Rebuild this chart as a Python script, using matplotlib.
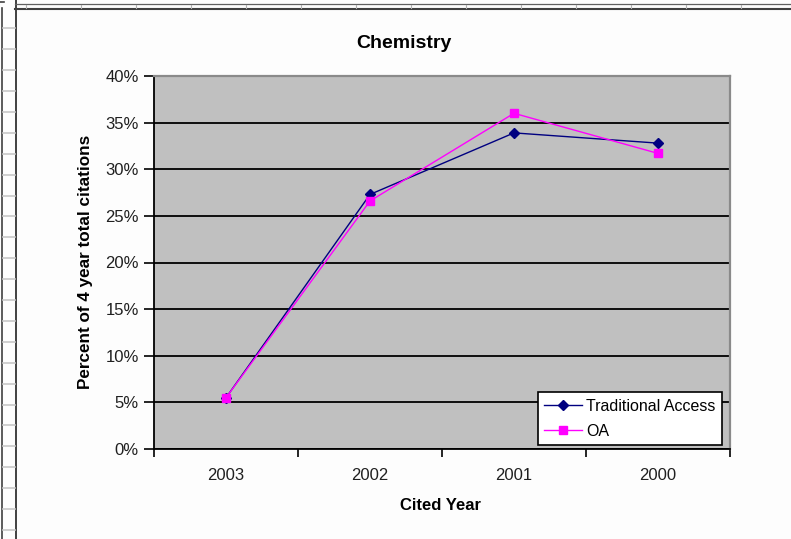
import matplotlib
matplotlib.use("Agg")
import matplotlib.pyplot as plt
from matplotlib.lines import Line2D

plt.rcParams['font.family'] = ['Liberation Sans', 'DejaVu Sans']

# Data
categories = ["2003", "2002", "2001", "2000"]
traditional = [0.055, 0.273, 0.339, 0.328]
oa = [0.055, 0.266, 0.360, 0.317]
yticks = [0.0, 0.05, 0.10, 0.15, 0.20, 0.25, 0.30, 0.35, 0.40]
ytick_labels = ["0%", "5%", "10%", "15%", "20%", "25%", "30%", "35%", "40%"]

W, H = 791, 539
fig = plt.figure(figsize=(W / 100, H / 100), dpi=100)
fig.patch.set_facecolor("#fdfdfd")

# spreadsheet decoration (fig pixel coords)
def fx(x):
    return x / W
def fy(y):
    return 1 - y / H

fig.add_artist(Line2D([fx(2), fx(2)], [fy(8), fy(539)], color="#404040", lw=1.2))
fig.add_artist(Line2D([fx(15.5), fx(15.5)], [fy(0), fy(539)], color="#404040", lw=1.4))
fig.add_artist(Line2D([fx(15), fx(791)], [fy(4), fy(4)], color="#606060", lw=0.9))
fig.add_artist(Line2D([fx(15), fx(791)], [fy(8.5), fy(8.5)], color="#404040", lw=1.5))
fig.add_artist(Line2D([fx(0), fx(4)], [fy(2), fy(2)], color="#404040", lw=1.2))
for i in range(26):
    y = 28.3 + i * 20.9
    if y < H:
        fig.add_artist(Line2D([fx(3), fx(14.5)], [fy(y), fy(y)], color="#c8c8c8", lw=1.2))
for i in range(16):
    x = 26 + i * 55
    fig.add_artist(Line2D([fx(x), fx(x)], [fy(4.5), fy(7.5)], color="#b0b0b0", lw=0.8))

ax = fig.add_axes([154 / W, (H - 449) / H, (730 - 154) / W, (449 - 76) / H])
ax.set_facecolor("#c0c0c0")

x = list(range(len(categories)))
ax.plot(x, traditional, color="#000080", lw=1.0, marker="D", markersize=5,
        markerfacecolor="#000080", markeredgecolor="#000080", label="Traditional Access", zorder=3)
ax.plot(x, oa, color="#ff00ff", lw=1.0, marker="s", markersize=6,
        markerfacecolor="#ff00ff", markeredgecolor="#ff00ff", label="OA", zorder=3)

ax.set_xlim(-0.5, len(categories) - 0.5)
ax.set_ylim(0, 0.40)
ax.set_yticks(yticks)
ax.set_yticklabels(ytick_labels, fontsize=12, color="#202020")
ax.set_xticks(x)
ax.set_xticklabels(categories, fontsize=12, color="#202020")
ax.set_xticks([i - 0.5 for i in range(len(categories) + 1)], minor=True)
ax.tick_params(axis="x", which="major", length=0, pad=14)
ax.tick_params(axis="x", which="minor", length=6, width=1.2, direction="out", color="black")
ax.tick_params(axis="y", length=7, width=1.2, direction="out", pad=4, color="black")

ax.set_axisbelow(True)
ax.yaxis.grid(True, color="black", lw=1.3)
for s in ["left", "bottom"]:
    ax.spines[s].set_color("black")
    ax.spines[s].set_linewidth(1.3)
for s in ["top", "right"]:
    ax.spines[s].set_color("#8a8a8a")
    ax.spines[s].set_linewidth(1.6)

fig.text(404 / W, fy(43), "Chemistry", ha="center", va="center", fontsize=14, fontweight="bold")
fig.text(86 / W, fy(262), "Percent of 4 year total citations", ha="center", va="center",
         rotation=90, fontsize=12.3, fontweight="bold")
fig.text(441 / W, fy(506), "Cited Year", ha="center", va="center", fontsize=12, fontweight="bold")

leg = ax.legend(loc="lower right", bbox_to_anchor=((722 - 154) / (730 - 154), (449 - 445) / (449 - 76)),
                fontsize=11.5, frameon=True, fancybox=False, framealpha=1, edgecolor="black",
                borderpad=0.4, labelspacing=0.62, handlelength=2.4, handletextpad=0.25,
                borderaxespad=0)
leg.get_frame().set_linewidth(1.2)
leg.get_frame().set_facecolor("white")

fig.savefig("out.png", dpi=100, facecolor=fig.get_facecolor())
